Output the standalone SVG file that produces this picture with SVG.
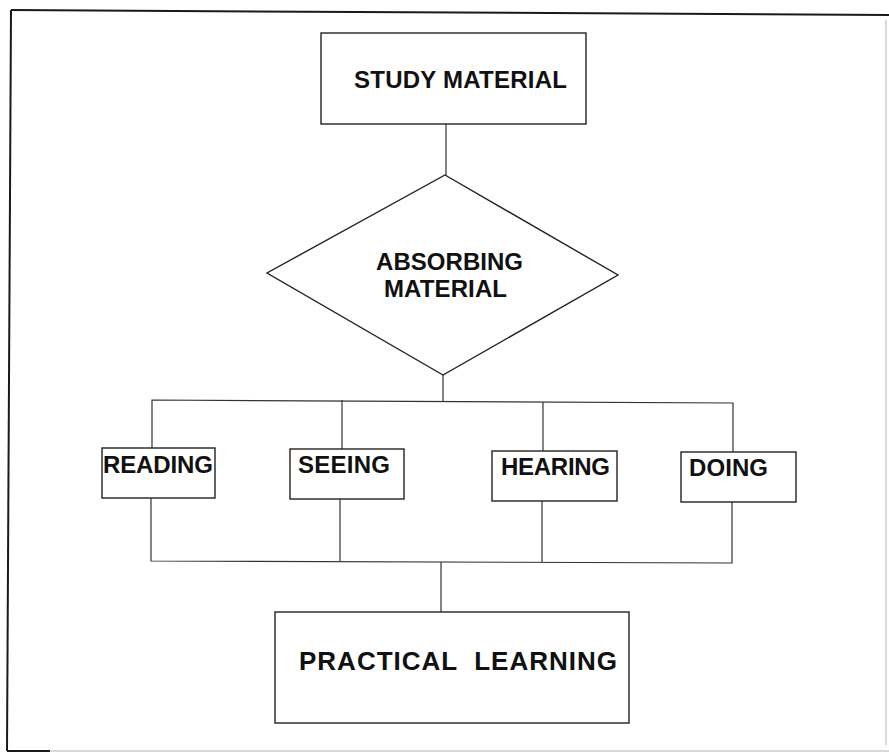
<svg xmlns="http://www.w3.org/2000/svg" width="889" height="753" viewBox="0 0 889 753">
<style>
.box{fill:#fff;stroke:#222;stroke-width:1.4}
.conn{fill:none;stroke:#333;stroke-width:1.2}
.lbl{font-family:"Liberation Sans",Arial,sans-serif;font-weight:bold;font-size:24px;fill:#111}
.big{font-size:26px}
.frame{fill:none;stroke:#1a1a1a;stroke-width:2}
.framelight{fill:none;stroke:#ccc;stroke-width:1.5}
</style>
<rect width="889" height="753" fill="#fff"/>
<g id="frame">
<line class="frame" x1="11" y1="10" x2="889" y2="15"/>
<line class="frame" x1="11" y1="10" x2="7" y2="751"/>
<line class="frame" x1="7" y1="751" x2="50" y2="751"/>
<line class="framelight" x1="50" y1="751" x2="889" y2="751"/>
<line class="framelight" x1="886" y1="20" x2="886" y2="745"/>
</g>
<g id="connectors">
<line class="conn" x1="446" y1="124" x2="446" y2="175"/>
<line class="conn" x1="443" y1="375" x2="443" y2="401"/>
<polyline class="conn" points="152,448 152,400 733,403 733,452"/>
<line class="conn" x1="342" y1="400" x2="342" y2="449"/>
<line class="conn" x1="543" y1="402" x2="543" y2="451"/>
<polyline class="conn" points="151,498 151,561 732,563 732,502"/>
<line class="conn" x1="340" y1="499" x2="340" y2="561"/>
<line class="conn" x1="542" y1="501" x2="542" y2="562"/>
<line class="conn" x1="441" y1="562" x2="441" y2="612"/>
</g>
<g id="study-material">
<rect class="box" x="321" y="33" width="265" height="91"/>
<text class="lbl" x="354" y="88" textLength="213">STUDY MATERIAL</text>
</g>
<g id="absorbing-material">
<polygon class="box" points="445,175 618,275 443,375 267,273"/>
<text class="lbl" x="376" y="270" textLength="147">ABSORBING</text>
<text class="lbl" x="384" y="297" textLength="123">MATERIAL</text>
</g>
<g id="reading">
<rect class="box" x="102" y="448" width="113" height="50"/>
<text class="lbl" x="103" y="473" textLength="110">READING</text>
</g>
<g id="seeing">
<rect class="box" x="290" y="449" width="114" height="50"/>
<text class="lbl" x="298" y="473" textLength="92">SEEING</text>
</g>
<g id="hearing">
<rect class="box" x="492" y="451" width="125" height="50"/>
<text class="lbl" x="501" y="475" textLength="109">HEARING</text>
</g>
<g id="doing">
<rect class="box" x="681" y="452" width="115" height="50"/>
<text class="lbl" x="689" y="476" textLength="79">DOING</text>
</g>
<g id="practical-learning">
<rect class="box" x="275" y="612" width="354" height="111"/>
<text class="lbl big" x="299" y="670" textLength="318" xml:space="preserve">PRACTICAL  LEARNING</text>
</g>
</svg>
